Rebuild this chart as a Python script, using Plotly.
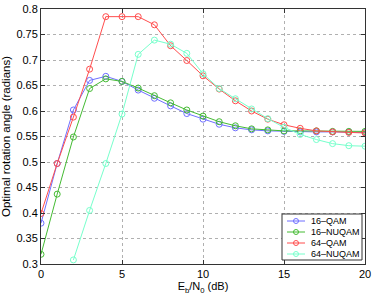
import plotly.graph_objects as go

snr = list(range(0, 21))
qam16 = [0.380, 0.497, 0.602, 0.660, 0.668, 0.658, 0.641, 0.625, 0.610, 0.595, 0.584,
         0.574, 0.567, 0.563, 0.561, 0.560, 0.559, 0.559, 0.559, 0.559, 0.558]
nuqam16 = [0.319, 0.437, 0.549, 0.644, 0.663, 0.658, 0.645, 0.630, 0.616, 0.602, 0.590,
           0.579, 0.571, 0.565, 0.563, 0.561, 0.561, 0.561, 0.560, 0.560, 0.560]
qam64 = [0.399, 0.497, 0.588, 0.682, 0.785, 0.785, 0.785, 0.769, 0.728, 0.699, 0.669,
         0.643, 0.620, 0.600, 0.584, 0.573, 0.566, 0.561, 0.559, 0.558, 0.557]
snr_nu64 = list(range(2, 21))
nuqam64 = [0.308, 0.405, 0.497, 0.594, 0.711, 0.739, 0.731, 0.713, 0.673, 0.644,
           0.624, 0.604, 0.585, 0.568, 0.554, 0.544, 0.536, 0.532, 0.531]

names = ["16\u2013QAM", "16\u2013NUQAM", "64\u2013QAM", "64\u2013NUQAM"]
colors = ["#6f6fff", "#44bb33", "#ff4d4d", "#77ffcc"]
xs = [snr, snr, snr, snr_nu64]
ys = [qam16, nuqam16, qam64, nuqam64]

y_ticks = [0.3, 0.35, 0.4, 0.45, 0.5, 0.55, 0.6, 0.65, 0.7, 0.75, 0.8]
y_labels = ["0.3", "0.35", "0.4", "0.45", "0.5", "0.55", "0.6", "0.65", "0.7", "0.75", "0.8"]
x_ticks = [0, 5, 10, 15, 20]

W, H = 374, 296
ML, MR, MT, MB = 41, 9, 9, 32
PW, PH = W - ML - MR, H - MT - MB


def px_x(p):
    return (p - ML) / PW


def px_y(p):
    return (H - MB - p) / PH


fig = go.Figure()
for n, c, x, y in zip(names, colors, xs, ys):
    fig.add_trace(go.Scatter(
        x=x, y=y, name=n, mode="lines+markers",
        line=dict(color=c, width=1),
        marker=dict(symbol="circle-open", size=6, color=c, line=dict(width=1, color=c)),
        showlegend=False,
    ))

# compact MATLAB-style legend box (layout only)
shapes = [dict(type="rect", xref="paper", yref="paper",
               x0=px_x(282), x1=px_x(362), y0=px_y(260), y1=px_y(214),
               line=dict(color="#333333", width=1), fillcolor="white", layer="above")]
annotations = []
for i, (n, c) in enumerate(zip(names, colors)):
    yc = 221 + i * 11
    shapes.append(dict(type="line", xref="paper", yref="paper",
                       x0=px_x(287), x1=px_x(305), y0=px_y(yc), y1=px_y(yc),
                       line=dict(color=c, width=1), layer="above"))
    shapes.append(dict(type="circle", xref="paper", yref="paper",
                       xsizemode="pixel", ysizemode="pixel",
                       xanchor=px_x(296), yanchor=px_y(yc),
                       x0=-2.5, x1=2.5, y0=-2.5, y1=2.5,
                       line=dict(color=c, width=1), layer="above"))
    annotations.append(dict(xref="paper", yref="paper", x=px_x(309), y=px_y(yc),
                            text=n, showarrow=False, xanchor="left", yanchor="middle",
                            font=dict(size=9, family="Liberation Sans, Arial", color="#000000")))

axis_common = dict(
    showline=True, linecolor="#333333", linewidth=1, mirror="ticks",
    ticks="inside", ticklen=4, tickcolor="#333333",
    showgrid=True, gridcolor="#b0b0b0", griddash="dot", gridwidth=1,
    zeroline=False, automargin=False,
    tickfont=dict(family="Liberation Sans, Arial", size=11, color="#000000"),
)

fig.update_layout(
    width=W, height=H,
    margin=dict(l=ML, r=MR, t=MT, b=MB),
    paper_bgcolor="white", plot_bgcolor="white",
    font=dict(family="Liberation Sans, Arial", size=11, color="#000000"),
    xaxis=dict(range=[0, 20], tickvals=x_ticks, ticktext=[str(v) for v in x_ticks],
               title=dict(text="E<sub>b</sub>/N<sub>0</sub> (dB)", standoff=2,
                          font=dict(size=11)),
               **axis_common),
    yaxis=dict(range=[0.3, 0.8], tickvals=y_ticks, ticktext=y_labels,
               title=dict(text="Optimal rotation angle (radians)", standoff=4,
                          font=dict(size=11.5)),
               **axis_common),
    shapes=shapes,
    annotations=annotations,
    showlegend=False,
)

fig.write_html("out.html", config={"displayModeBar": False},
               post_script="document.body.style.margin='0px';document.body.style.overflow='hidden';")
